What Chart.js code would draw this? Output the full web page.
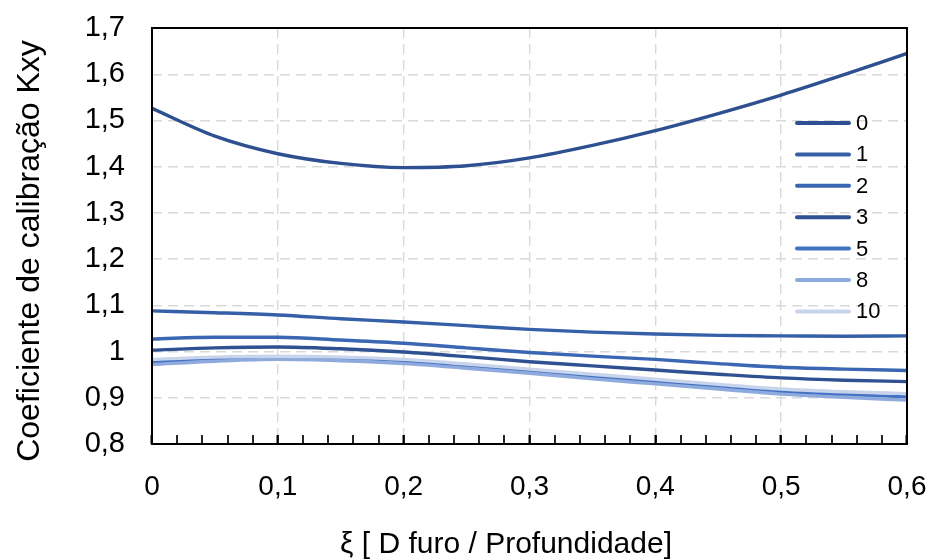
<!DOCTYPE html>
<html>
<head>
<meta charset="utf-8">
<script src="https://cdn.jsdelivr.net/npm/chart.js@4/dist/chart.umd.min.js"></script>
<style>
  html, body { margin: 0; padding: 0; background: #ffffff; }
  #wrap { width: 932px; height: 559px; position: relative; }
</style>
</head>
<body>
<div id="wrap"><canvas id="c"></canvas></div>
<script>
// ---- data ----
const xValues = [0, 0.05, 0.1, 0.15, 0.2, 0.25, 0.3, 0.35, 0.4, 0.45, 0.5, 0.55, 0.6];
const seriesNames = ['0', '1', '2', '3', '5', '8', '10'];
const s0  = [1.526, 1.466, 1.428, 1.407, 1.398, 1.402, 1.419, 1.446, 1.478, 1.515, 1.555, 1.599, 1.645];
const s1  = [1.088, 1.084, 1.079, 1.071, 1.064, 1.056, 1.048, 1.042, 1.038, 1.035, 1.034, 1.033, 1.034];
const s2  = [1.027, 1.031, 1.031, 1.025, 1.018, 1.008, 0.998, 0.990, 0.983, 0.974, 0.966, 0.962, 0.959];
const s3  = [1.003, 1.008, 1.010, 1.006, 0.999, 0.989, 0.978, 0.969, 0.960, 0.951, 0.943, 0.938, 0.935];
const s5  = [0.977, 0.983, 0.986, 0.984, 0.978, 0.968, 0.957, 0.946, 0.935, 0.924, 0.913, 0.907, 0.902];
const s8  = [0.972, 0.979, 0.983, 0.980, 0.974, 0.964, 0.953, 0.941, 0.930, 0.919, 0.908, 0.901, 0.895];
const s10 = [0.983, 0.988, 0.990, 0.988, 0.983, 0.973, 0.962, 0.951, 0.940, 0.929, 0.919, 0.913, 0.909];
const seriesValues = [s0, s1, s2, s3, s5, s8, s10];
const seriesColors = ['#2E5090', '#3560A8', '#3B66B4', '#2F5192', '#4472C4', '#8FAADC', '#C8D3EC'];

const yTickValues = [0.8, 0.9, 1.0, 1.1, 1.2, 1.3, 1.4, 1.5, 1.6, 1.7];
const yTickLabels = ['0,8', '0,9', '1', '1,1', '1,2', '1,3', '1,4', '1,5', '1,6', '1,7'];
const xMajorValues = [0, 0.1, 0.2, 0.3, 0.4, 0.5, 0.6];
const xTickLabels = ['0', '0,1', '0,2', '0,3', '0,4', '0,5', '0,6'];
const xTitle = 'ξ [ D furo / Profundidade]';
const yTitle = 'Coeficiente de calibração Kxy';

const SANS = '"Liberation Sans", Arial, Helvetica, sans-serif';

function majorIndex(v) {
  for (let i = 0; i < xMajorValues.length; i++) {
    if (Math.abs(v - xMajorValues[i]) < 1e-9) return i;
  }
  return -1;
}

const datasets = seriesNames.map((name, k) => ({
  label: name,
  data: xValues.map((x, i) => ({ x: x, y: seriesValues[k][i] })),
  borderColor: seriesColors[k],
  backgroundColor: seriesColors[k],
  borderWidth: 3.4,
  pointRadius: 0,
  fill: false,
  cubicInterpolationMode: 'monotone',
  order: -k
}));

const decorPlugin = {
  id: 'decor',
  afterDraw(chart) {
    const ctx = chart.ctx;
    const a = chart.chartArea;
    ctx.save();
    // plot frame
    ctx.strokeStyle = '#000000';
    ctx.lineWidth = 2;
    ctx.strokeRect(a.left, a.top, a.right - a.left, a.bottom - a.top);
    // legend inside plot
    ctx.font = '22px ' + SANS;
    ctx.textBaseline = 'middle';
    ctx.textAlign = 'left';
    ctx.lineCap = 'round';
    chart.data.datasets.forEach((ds, i) => {
      const y = a.top + 95 + i * 31.4;
      ctx.strokeStyle = ds.borderColor;
      ctx.lineWidth = 4;
      ctx.beginPath();
      ctx.moveTo(a.right - 110, y);
      ctx.lineTo(a.right - 58, y);
      ctx.stroke();
      ctx.fillStyle = '#000000';
      ctx.fillText(ds.label, a.right - 51, y + 1);
    });
    // axis titles
    ctx.fillStyle = '#000000';
    ctx.textAlign = 'center';
    ctx.textBaseline = 'middle';
    ctx.font = '30px ' + SANS;
    ctx.fillText(xTitle, 506, 545);
    ctx.save();
    ctx.translate(30, 251);
    ctx.rotate(-Math.PI / 2);
    ctx.font = '32px ' + SANS;
    ctx.fillText(yTitle, 0, 0);
    ctx.restore();
    ctx.restore();
  }
};

const chart = new Chart(document.getElementById('c'), {
  type: 'line',
  data: { datasets: datasets },
  plugins: [decorPlugin],
  options: {
    responsive: true,
    maintainAspectRatio: false,
    animation: false,
    layout: { padding: { top: 28, right: 25, left: 0, bottom: 0 } },
    plugins: { legend: { display: false }, tooltip: { enabled: false } },
    scales: {
      x: {
        type: 'linear',
        min: 0,
        max: 0.6,
        afterBuildTicks(scale) {
          const t = [];
          for (let i = 0; i <= 30; i++) t.push({ value: Math.round(i * 2) / 100 });
          scale.ticks = t;
        },
        afterFit(scale) {
          scale.height = 115;
          scale.paddingLeft = 0; scale.paddingRight = 0;
          scale.paddingTop = 0; scale.paddingBottom = 0;
        },
        border: { display: false, dash: [10, 6] },
        grid: {
          color: '#D9D9D9',
          lineWidth: (c) => (c.tick && majorIndex(c.tick.value) >= 0 ? 1.4 : 0),
          drawTicks: true,
          tickLength: -9,
          tickColor: '#000000',
          tickWidth: (c) => (c.tick && majorIndex(c.tick.value) >= 0 ? 2.4 : 1.7),
          tickBorderDash: []
        },
        ticks: {
          autoSkip: false,
          maxRotation: 0,
          minRotation: 0,
          padding: 35,
          color: '#000000',
          font: { family: SANS, size: 28 },
          callback: (v) => { const i = majorIndex(v); return i >= 0 ? xTickLabels[i] : ''; }
        }
      },
      y: {
        type: 'linear',
        min: 0.8,
        max: 1.7,
        afterBuildTicks(scale) { scale.ticks = yTickValues.map(v => ({ value: v })); },
        afterFit(scale) {
          scale.width = 152;
          scale.paddingLeft = 0; scale.paddingRight = 0;
          scale.paddingTop = 0; scale.paddingBottom = 0;
        },
        border: { display: false, dash: [10, 6] },
        grid: { color: '#D9D9D9', lineWidth: 1.4, drawTicks: false },
        ticks: {
          padding: 27,
          color: '#000000',
          font: { family: SANS, size: 29 },
          callback: (v, i) => yTickLabels[i]
        }
      }
    }
  }
});

if (document.fonts && document.fonts.load) {
  document.fonts.load('28px "Liberation Sans"').then(() => chart.update()).catch(() => {});
}
</script>
</body>
</html>
